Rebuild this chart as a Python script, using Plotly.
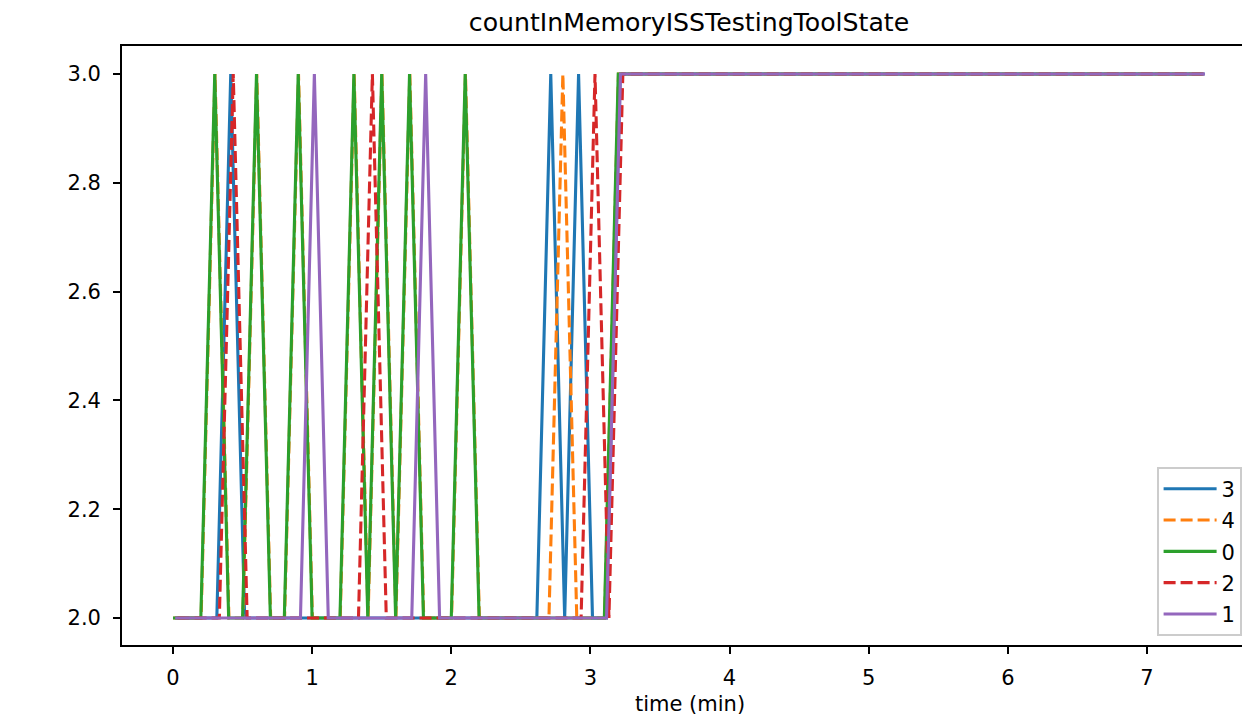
import plotly.graph_objects as go

# ---- data ----
series_names = ["3", "4", "0", "2", "1"]
series_colors = ["#1f77b4", "#ff7f0e", "#2ca02c", "#d62728", "#9467bd"]
series_dash = ["solid", "12px,5px", "solid", "12px,5px", "solid"]

t3 = [0.015, 0.315, 0.415, 0.515, 2.615, 2.715, 2.815, 2.915, 3.015, 3.115, 3.215, 7.415]
v3 = [2, 2, 3, 2, 2, 3, 2, 3, 2, 2, 3, 3]

t4 = [0.002, 0.202, 0.302, 0.402, 0.502, 0.602, 0.702, 0.802, 0.902, 1.002, 1.202, 1.302,
      1.402, 1.502, 1.602, 1.702, 1.802, 2.002, 2.102, 2.202, 2.702, 2.802, 2.902,
      3.102, 3.202, 7.402]
v4 = [2, 2, 3, 2, 2, 3, 2, 2, 3, 2, 2, 3,
      2, 3, 2, 3, 2, 2, 3, 2, 2, 3, 2,
      2, 3, 3]

t0 = [0.0, 0.2, 0.3, 0.4, 0.5, 0.6, 0.7, 0.8, 0.9, 1.0, 1.2, 1.3,
      1.4, 1.5, 1.6, 1.7, 1.8, 2.0, 2.1, 2.2, 3.1, 3.2, 7.4]
v0 = [2, 2, 3, 2, 2, 3, 2, 2, 3, 2, 2, 3,
      2, 3, 2, 3, 2, 2, 3, 2, 2, 3, 3]

t2 = [0.033, 0.333, 0.433, 0.533, 1.333, 1.433, 1.533, 2.933, 3.033, 3.133, 3.233, 7.433]
v2 = [2, 2, 3, 2, 2, 3, 2, 2, 3, 2, 3, 3]

t1 = [0.016, 0.916, 1.016, 1.116, 1.716, 1.816, 1.916, 3.116, 3.216, 7.416]
v1 = [2, 2, 3, 2, 2, 3, 2, 2, 3, 3]

series_t = [t3, t4, t0, t2, t1]
series_v = [v3, v4, v0, v2, v1]

x_ticks = [0, 1, 2, 3, 4, 5, 6, 7]
y_ticks = [2.0, 2.2, 2.4, 2.6, 2.8, 3.0]

title_text = "countInMemoryISSTestingToolState"
x_title = "time (min)"

# ---- figure ----
FONT = "DejaVu Sans"
fig = go.Figure()
for name, color, dash, t, v in zip(series_names, series_colors, series_dash, series_t, series_v):
    fig.add_trace(go.Scatter(
        x=t, y=v, mode="lines", name=name, legendgroup=name,
        line=dict(color=color, width=3.1, dash=dash),
    ))

fig.update_layout(
    width=1242, height=717,
    margin=dict(l=122, r=0, t=46, b=72, autoexpand=False),
    paper_bgcolor="white", plot_bgcolor="white",
    font=dict(family=FONT, size=21, color="black"),
    title=dict(text=title_text, x=689 / 1242, xanchor="center", xref="container",
               y=1 - 22.5 / 717, yanchor="middle", yref="container",
               font=dict(family=FONT, size=25.2, color="black")),
    showlegend=True,
    legend=dict(x=(1157 - 122) / 1120, xanchor="left", y=0.015, yanchor="bottom",
                bgcolor="rgba(255,255,255,0.8)", bordercolor="#cccccc", borderwidth=1.6,
                font=dict(family=FONT, size=21, color="black"),
                tracegroupgap=1, itemwidth=53),
    annotations=[dict(text=x_title, xref="paper", yref="paper",
                      x=(689.5 - 122) / 1120, y=-(716.5 - 645) / 599,
                      xanchor="center", yanchor="bottom", showarrow=False, borderpad=0,
                      font=dict(family=FONT, size=21, color="black"))],
)

fig.update_xaxes(
    range=[-0.3665, 7.683], tickvals=x_ticks, ticktext=[str(v) for v in x_ticks],
    showgrid=False, zeroline=False,
    showline=True, linecolor="black", linewidth=1.7, mirror=True,
    ticks="outside", ticklen=7, tickwidth=1.7, tickcolor="black",
    ticklabelstandoff=6,
)
fig.update_yaxes(
    range=[1.9504, 3.0515], tickvals=y_ticks, ticktext=[f"{v:.1f}" for v in y_ticks],
    showgrid=False, zeroline=False,
    showline=True, linecolor="black", linewidth=1.7, mirror=False,
    ticks="outside", ticklen=7, tickwidth=1.7, tickcolor="black",
    ticklabelstandoff=8,
)

fig.write_html(
    "out.html",
    config={"displayModeBar": False},
    post_script="document.body.style.margin='0';document.body.style.overflow='hidden';",
)
